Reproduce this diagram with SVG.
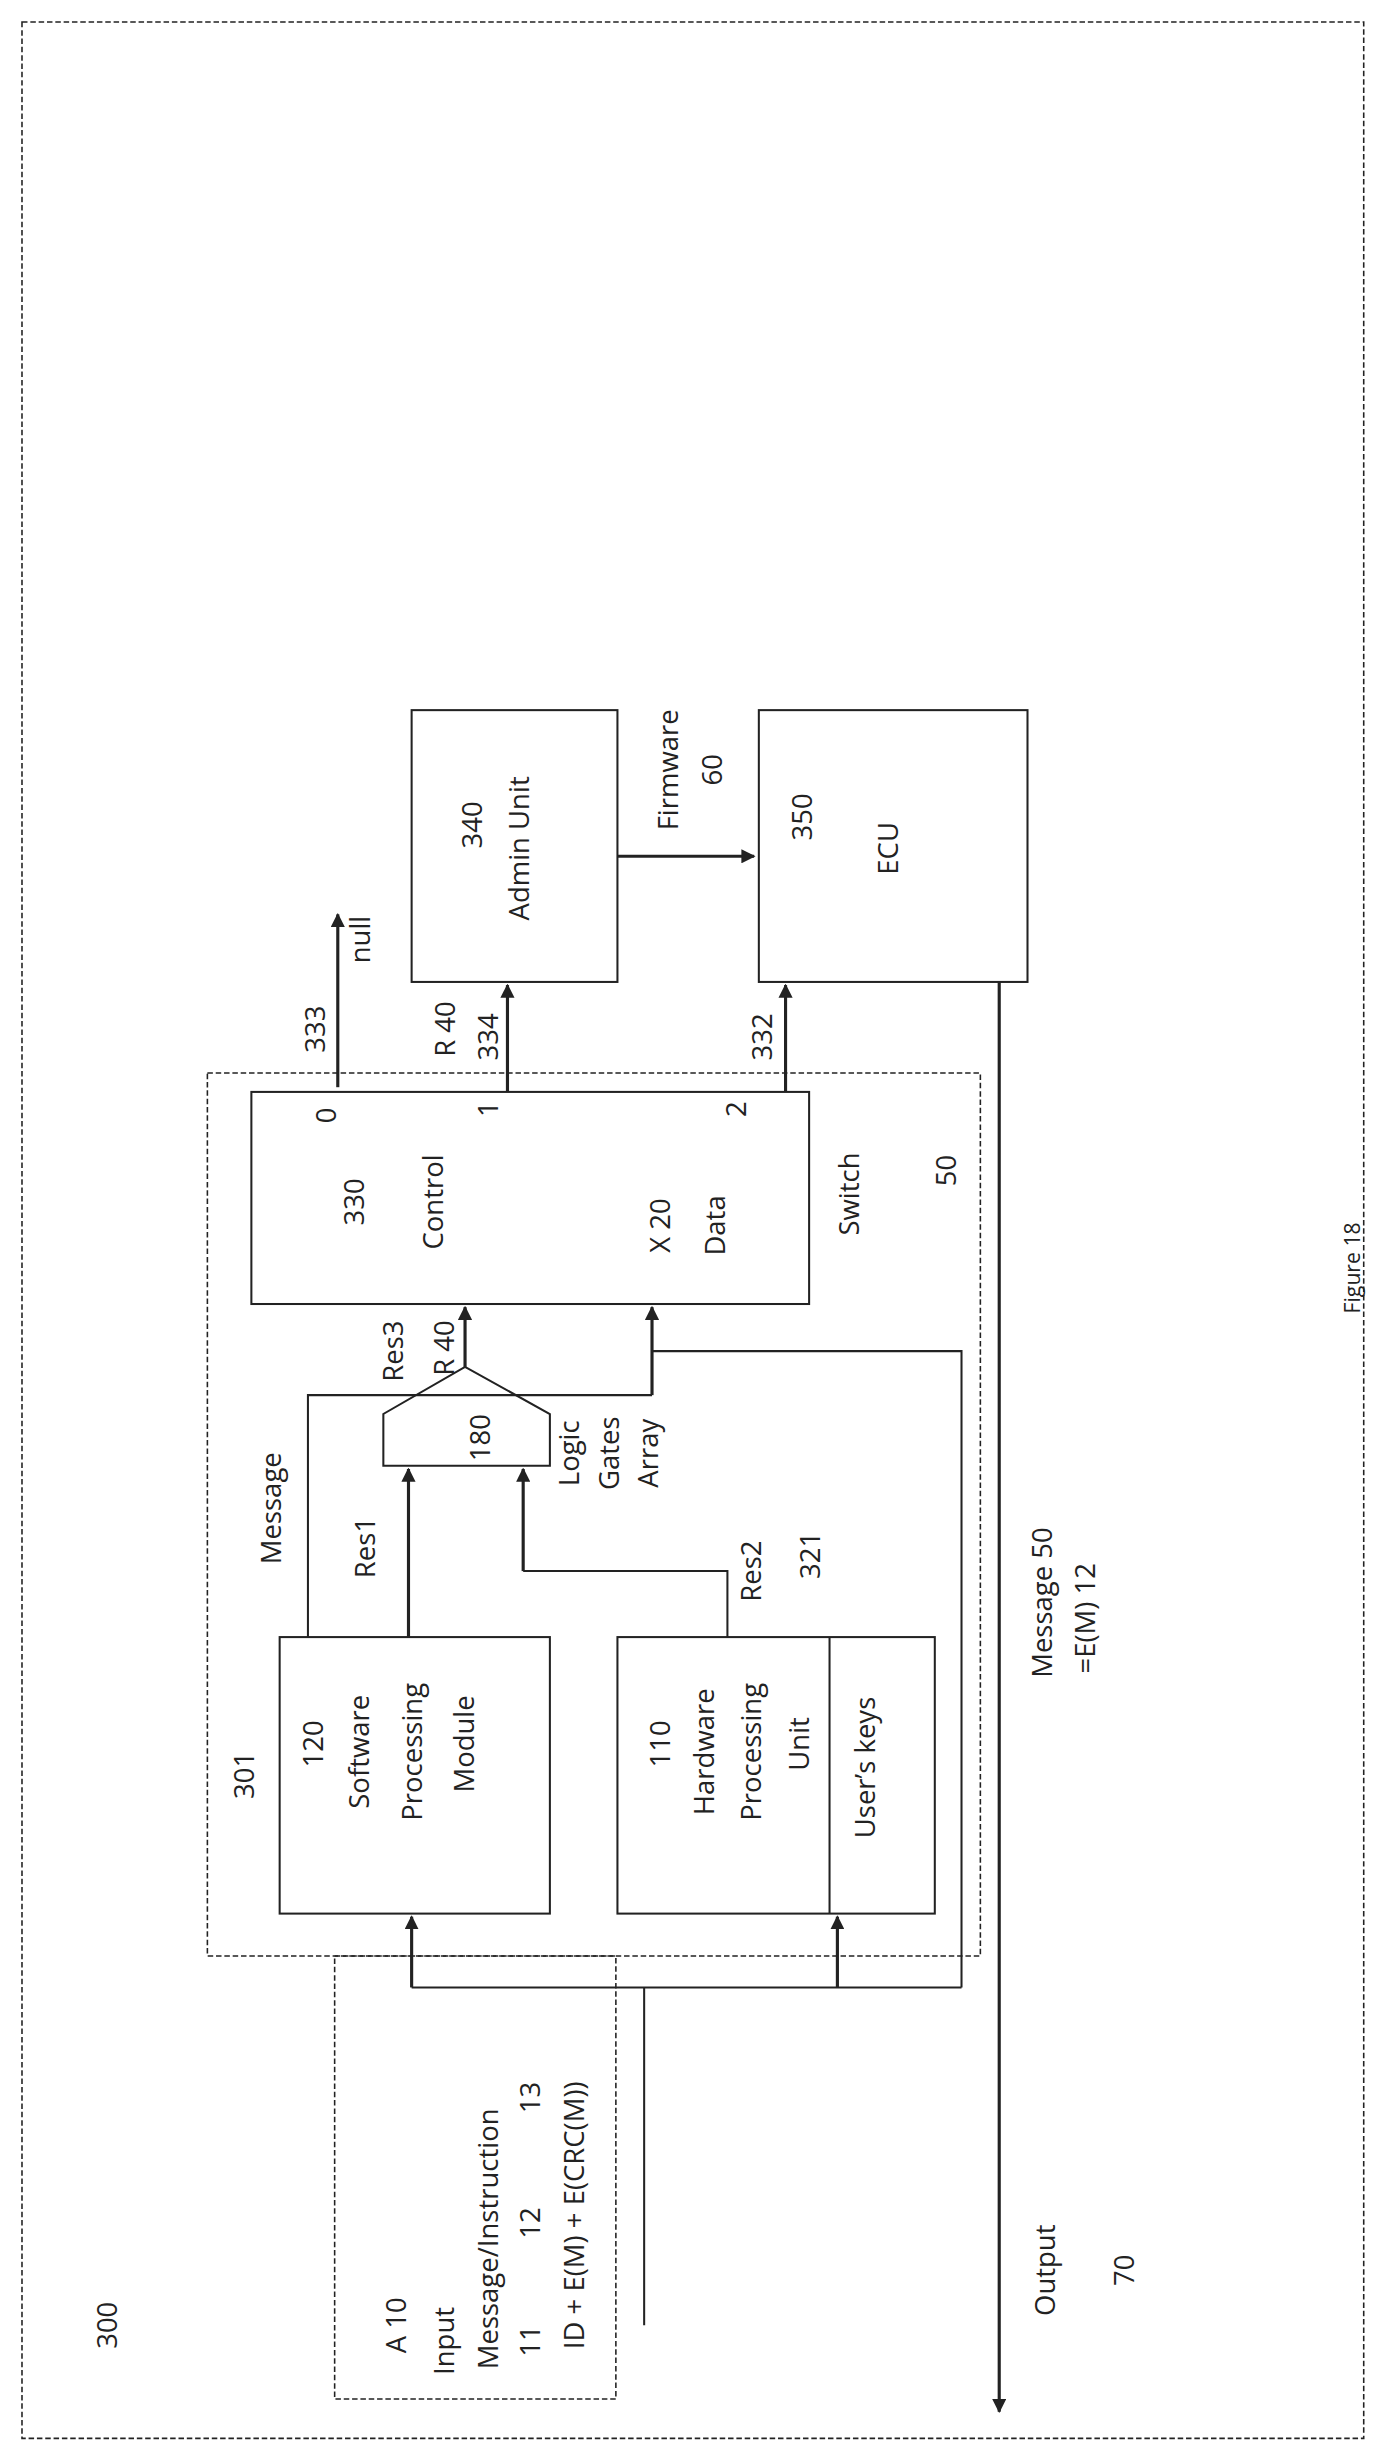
<svg xmlns="http://www.w3.org/2000/svg" width="1392" height="2452" viewBox="0 0 1392 2452">
<style>
.t{font-family:"Open Sans","Liberation Sans",sans-serif;font-size:17.5px;fill:#222;text-anchor:middle;dominant-baseline:central}
.b{fill:#fff;stroke:#222;stroke-width:1.3}
.d{fill:none;stroke:#222;stroke-width:1;stroke-dasharray:3.5 1.8}
.c{fill:none;stroke:#222;stroke-width:1.3}
.a{fill:none;stroke:#222;stroke-width:2;marker-end:url(#ah)}
</style>
<defs><marker id="ah" viewBox="0 0 10 10" refX="9" refY="5" markerWidth="4.5" markerHeight="4.5" orient="auto"><path d="M0,0L10,5L0,10z" fill="#222"/></marker></defs>
<rect width="1392" height="2452" fill="#fff"/>
<g transform="scale(1.5711)">
<g id="n300"><rect class="d" x="14" y="14" width="854" height="1538"/><text class="t" transform="translate(68,1480) rotate(-90)">300</text></g>
<g id="n50"><rect class="d" x="132" y="683" width="492" height="562"/><text class="t" transform="translate(602,745) rotate(-90)">50</text><text class="t" transform="translate(540,760) rotate(-90)">Switch</text><text class="t" transform="translate(155,1130) rotate(-90)">301</text><text class="t" transform="translate(515,990) rotate(-90)">321</text></g>
<g id="n10"><rect class="d" x="213" y="1245" width="179" height="282"/>
<text class="t" transform="translate(252,1480) rotate(-90)">A 10</text>
<text class="t" transform="translate(282,1490) rotate(-90)">Input</text>
<text class="t" transform="translate(310,1425) rotate(-90)">Message/Instruction</text>
<text class="t" transform="translate(337,1490) rotate(-90)">11</text>
<text class="t" transform="translate(337,1415) rotate(-90)">12</text>
<text class="t" transform="translate(337,1335) rotate(-90)">13</text>
<text class="t" transform="translate(365,1410) rotate(-90)">ID + E(M) + E(CRC(M))</text></g>
<g id="n340"><rect class="b" x="262" y="452" width="131" height="173"/><text class="t" transform="translate(300,525) rotate(-90)">340</text><text class="t" transform="translate(330,540) rotate(-90)">Admin Unit</text></g>
<g id="n350"><rect class="b" x="483" y="452" width="171" height="173"/><text class="t" transform="translate(510,520) rotate(-90)">350</text><text class="t" transform="translate(565,540) rotate(-90)">ECU</text></g>
<g id="n330"><rect class="b" x="160" y="695" width="355" height="135"/>
<text class="t" transform="translate(207,710) rotate(-90)">0</text>
<text class="t" transform="translate(310,706) rotate(-90)">1</text>
<text class="t" transform="translate(468,706) rotate(-90)">2</text>
<text class="t" transform="translate(225,765) rotate(-90)">330</text>
<text class="t" transform="translate(275,765) rotate(-90)">Control</text>
<text class="t" transform="translate(420,780) rotate(-90)">X 20</text>
<text class="t" transform="translate(455,780) rotate(-90)">Data</text></g>
<g id="n180"><path class="b" d="M244,933V900L296,870L350,900V933Z"/><text class="t" transform="translate(305,915) rotate(-90)">180</text>
<text class="t" transform="translate(362,925) rotate(-90)">Logic</text><text class="t" transform="translate(387,925) rotate(-90)">Gates</text><text class="t" transform="translate(412,925) rotate(-90)">Array</text></g>
<g id="n120"><rect class="b" x="178" y="1042" width="172" height="176"/>
<text class="t" transform="translate(199,1110) rotate(-90)">120</text>
<text class="t" transform="translate(228,1115) rotate(-90)">Software</text>
<text class="t" transform="translate(262,1115) rotate(-90)">Processing</text>
<text class="t" transform="translate(295,1110) rotate(-90)">Module</text></g>
<g id="n110"><rect class="b" x="393" y="1042" width="202" height="176"/><line class="c" x1="528" y1="1042" x2="528" y2="1218"/>
<text class="t" transform="translate(420,1110) rotate(-90)">110</text>
<text class="t" transform="translate(448,1115) rotate(-90)">Hardware</text>
<text class="t" transform="translate(478,1115) rotate(-90)">Processing</text>
<text class="t" transform="translate(508,1110) rotate(-90)">Unit</text>
<text class="t" transform="translate(550,1125) rotate(-90)">User’s keys</text></g>
<g id="connectors">
<path class="a" d="M215,692V582"/>
<path class="a" d="M323,695V627"/>
<path class="a" d="M500,695V627"/>
<path class="a" d="M393,545H480"/>
<path class="a" d="M296,870V832"/>
<path class="c" d="M196,1042V888H415"/>
<path class="a" d="M415,888V832"/>
<path class="c" d="M612,1265V860H415"/>
<path class="a" d="M260,1042V935"/>
<path class="c" d="M463,1042V1000H333"/>
<path class="a" d="M333,1000V935"/>
<path class="c" d="M410,1480V1265"/>
<path class="c" d="M262,1265H612"/>
<path class="a" d="M262,1265V1220"/>
<path class="a" d="M533,1265V1220"/>
<path class="a" d="M636,625V1535"/>
</g>
<g id="labels">
<text class="t" transform="translate(200,655) rotate(-90)">333</text>
<text class="t" transform="translate(229,598) rotate(-90)">null</text>
<text class="t" transform="translate(283,655) rotate(-90)">R 40</text>
<text class="t" transform="translate(310,660) rotate(-90)">334</text>
<text class="t" transform="translate(485,660) rotate(-90)">332</text>
<text class="t" transform="translate(425,490) rotate(-90)">Firmware</text>
<text class="t" transform="translate(453,490) rotate(-90)">60</text>
<text class="t" transform="translate(250,860) rotate(-90)">Res3</text>
<text class="t" transform="translate(282,858) rotate(-90)">R 40</text>
<text class="t" transform="translate(172,960) rotate(-90)">Message</text>
<text class="t" transform="translate(232,985) rotate(-90)">Res1</text>
<text class="t" transform="translate(478,1000) rotate(-90)">Res2</text>
<text class="t" transform="translate(663,1020) rotate(-90)">Message 50</text>
<text class="t" transform="translate(690,1030) rotate(-90)">=E(M)  12</text>
<text class="t" transform="translate(665,1445) rotate(-90)">Output</text>
<text class="t" transform="translate(715,1445) rotate(-90)">70</text>
<text class="t" style="font-size:13.5px" transform="translate(860,807) rotate(-90)">Figure 18</text>
</g>
</g>
</svg>
